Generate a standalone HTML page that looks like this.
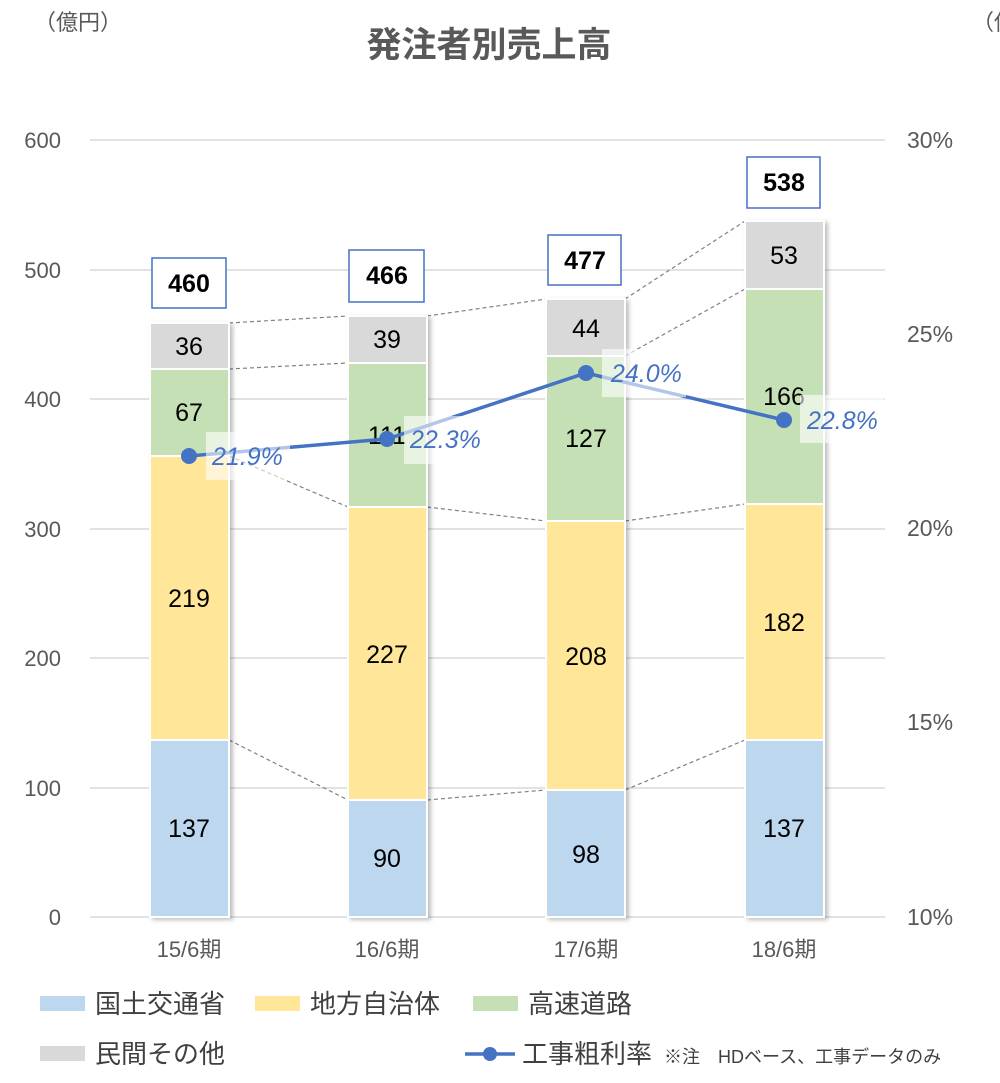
<!DOCTYPE html>
<html><head><meta charset="utf-8"><style>
body{margin:0;background:#fff;}
text{font-family:"Liberation Sans","Noto Sans CJK JP",sans-serif;}
</style></head><body>
<svg width="1000" height="1078" viewBox="0 0 1000 1078" xmlns="http://www.w3.org/2000/svg">
<defs><filter id="sh" x="-10%" y="-5%" width="130%" height="110%"><feDropShadow dx="3" dy="2" stdDeviation="2" flood-color="#000" flood-opacity="0.25"/></filter></defs>
<text x="34" y="30" font-size="22" fill="#595959">（億円）</text>
<text x="972" y="30" font-size="22" fill="#595959">（億</text>
<text x="489" y="57" font-size="35" font-weight="bold" fill="#595959" text-anchor="middle">発注者別売上高</text>
<g stroke="#d9d9d9" stroke-width="1.5">
<line x1="90" y1="140" x2="885" y2="140"/><line x1="90" y1="270" x2="885" y2="270"/><line x1="90" y1="399" x2="885" y2="399"/><line x1="90" y1="529" x2="885" y2="529"/><line x1="90" y1="658" x2="885" y2="658"/><line x1="90" y1="788" x2="885" y2="788"/><line x1="90" y1="917" x2="885" y2="917"/>
</g>
<g font-size="22" fill="#595959" text-anchor="end">
<text x="61" y="148">600</text><text x="61" y="278">500</text><text x="61" y="407">400</text><text x="61" y="537">300</text><text x="61" y="666">200</text><text x="61" y="796">100</text><text x="61" y="925">0</text>
</g>
<g font-size="23" fill="#595959">
<text x="907" y="148">30%</text><text x="907" y="342">25%</text><text x="907" y="536">20%</text><text x="907" y="730">15%</text><text x="907" y="925">10%</text>
</g>
<g font-size="22" fill="#595959" text-anchor="middle">
<text x="189" y="957">15/6期</text><text x="387" y="957">16/6期</text><text x="586" y="957">17/6期</text><text x="784" y="957">18/6期</text>
</g>
<g stroke="#808080" stroke-width="1.2" stroke-dasharray="4,3" fill="none">
<line x1="229" y1="740" x2="348" y2="800"/><line x1="229" y1="456" x2="348" y2="507"/><line x1="229" y1="369" x2="348" y2="363"/><line x1="229" y1="323" x2="348" y2="316"/>
<line x1="427" y1="800" x2="546" y2="790"/><line x1="427" y1="507" x2="546" y2="521"/><line x1="427" y1="316" x2="546" y2="299"/>
<line x1="625" y1="790" x2="745" y2="740"/><line x1="625" y1="521" x2="745" y2="504"/><line x1="625" y1="356" x2="745" y2="289"/><line x1="625" y1="299" x2="745" y2="221"/>
</g>
<g stroke="#fff" stroke-width="2" filter="url(#sh)">
<rect x="150" y="740" width="79" height="177" fill="#bdd7ee"/><rect x="150" y="456" width="79" height="284" fill="#ffe699"/><rect x="150" y="369" width="79" height="87" fill="#c5e0b4"/><rect x="150" y="323" width="79" height="46" fill="#d9d9d9"/>
<rect x="348" y="800" width="79" height="117" fill="#bdd7ee"/><rect x="348" y="507" width="79" height="293" fill="#ffe699"/><rect x="348" y="363" width="79" height="144" fill="#c5e0b4"/><rect x="348" y="316" width="79" height="47" fill="#d9d9d9"/>
<rect x="546" y="790" width="79" height="127" fill="#bdd7ee"/><rect x="546" y="521" width="79" height="269" fill="#ffe699"/><rect x="546" y="356" width="79" height="165" fill="#c5e0b4"/><rect x="546" y="299" width="79" height="57" fill="#d9d9d9"/>
<rect x="745" y="740" width="79" height="177" fill="#bdd7ee"/><rect x="745" y="504" width="79" height="236" fill="#ffe699"/><rect x="745" y="289" width="79" height="215" fill="#c5e0b4"/><rect x="745" y="221" width="79" height="68" fill="#d9d9d9"/>
</g>
<g font-size="25" fill="#000" text-anchor="middle">
<text x="189" y="837">137</text><text x="189" y="607">219</text><text x="189" y="421">67</text><text x="189" y="355">36</text>
<text x="387" y="867">90</text><text x="387" y="663">227</text><text x="387" y="444">111</text><text x="387" y="348">39</text>
<text x="586" y="863">98</text><text x="586" y="665">208</text><text x="586" y="447">127</text><text x="586" y="337">44</text>
<text x="784" y="837">137</text><text x="784" y="631">182</text><text x="784" y="405">166</text><text x="784" y="264">53</text>
</g>
<g fill="#fff" stroke="#4472c4" stroke-width="1.5">
<rect x="152" y="258" width="74" height="50"/><rect x="349" y="250" width="75" height="52"/><rect x="548" y="235" width="73" height="50"/><rect x="747" y="157" width="73" height="51"/>
</g>
<g font-size="25" font-weight="bold" fill="#000" text-anchor="middle">
<text x="189" y="292">460</text><text x="387" y="284">466</text><text x="585" y="269">477</text><text x="784" y="191">538</text>
</g>
<polyline points="189,456 387,439 586,373 784,420" fill="none" stroke="#4472c4" stroke-width="3.5"/>
<g fill="#fff" fill-opacity="0.6">
<rect x="206" y="432" width="84" height="48"/><rect x="404" y="416" width="84" height="48"/><rect x="602" y="349" width="84" height="48"/><rect x="800" y="395" width="84" height="48"/>
</g>
<g fill="#4472c4"><circle cx="189" cy="456" r="8"/><circle cx="387" cy="439" r="8"/><circle cx="586" cy="373" r="8"/><circle cx="784" cy="420" r="8"/></g>
<g font-size="25" font-style="italic" fill="#4472c4">
<text x="212" y="465">21.9%</text><text x="410" y="448">22.3%</text><text x="611" y="382">24.0%</text><text x="807" y="429">22.8%</text>
</g>
<g font-size="26" fill="#404040">
<rect x="40" y="996" width="45" height="15" fill="#bdd7ee"/><text x="95" y="1013">国土交通省</text>
<rect x="255" y="996" width="45" height="15" fill="#ffe699"/><text x="310" y="1013">地方自治体</text>
<rect x="473" y="996" width="45" height="15" fill="#c5e0b4"/><text x="528" y="1013">高速道路</text>
<rect x="40" y="1046" width="45" height="15" fill="#d9d9d9"/><text x="95" y="1063">民間その他</text>
<line x1="465" y1="1054" x2="515" y2="1054" stroke="#4472c4" stroke-width="3.5"/><circle cx="490" cy="1054" r="7" fill="#4472c4"/>
<text x="522" y="1063">工事粗利率</text>
<text x="664" y="1063" font-size="18">※注　HDベース、工事データのみ</text>
</g>
</svg>
</body></html>
